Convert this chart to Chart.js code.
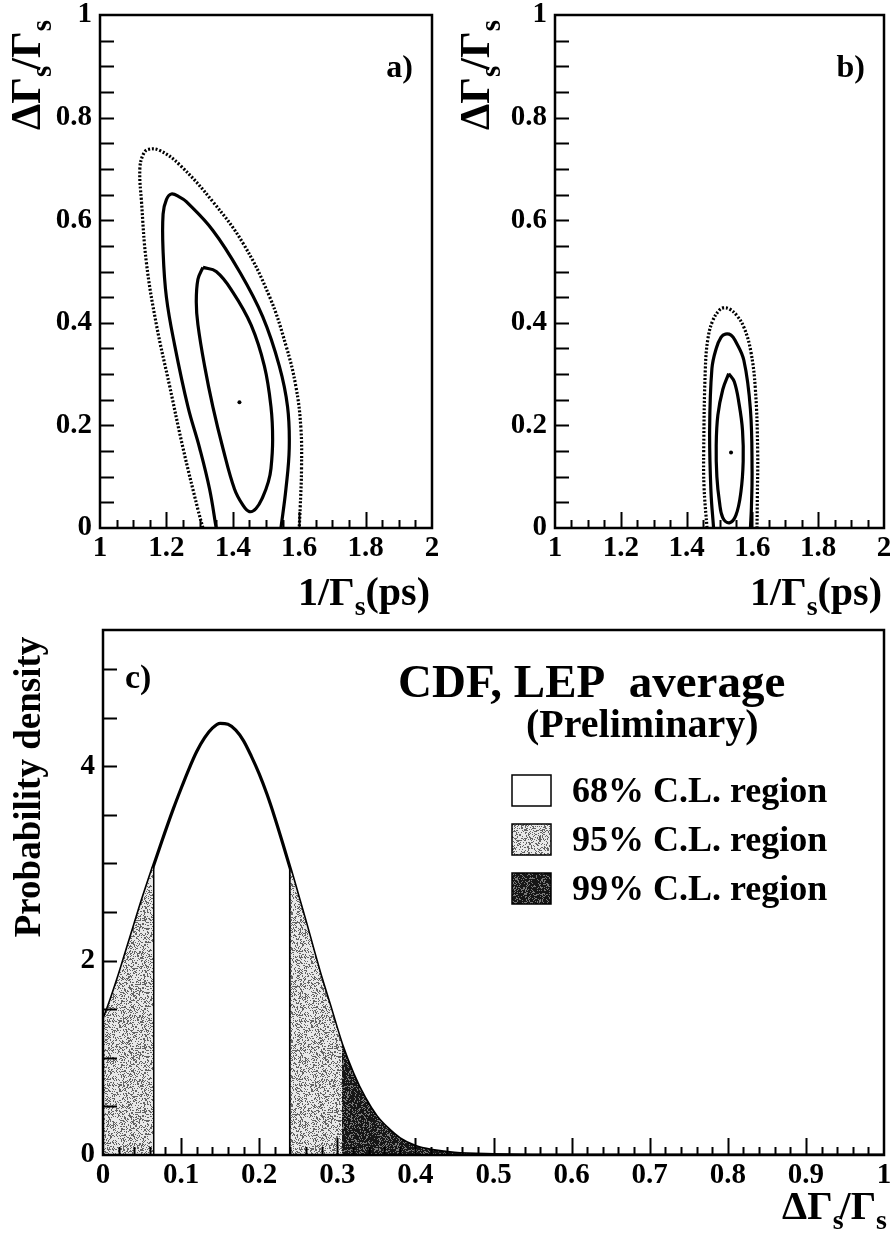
<!DOCTYPE html>
<html>
<head>
<meta charset="utf-8">
<script src="https://cdn.jsdelivr.net/npm/chart.js@4.4.1/dist/chart.umd.min.js"></script>
<style>
  html, body { margin: 0; padding: 0; background: #fff; }
  #wrap { position: relative; width: 894px; height: 1233px; overflow: hidden; background: #fff; }
  canvas { position: absolute; }
</style>
</head>
<body>
<div id="wrap">
  <canvas id="chartA" width="447" height="620" style="left:0;top:0"></canvas>
  <canvas id="chartB" width="447" height="620" style="left:447px;top:0"></canvas>
  <canvas id="chartC" width="894" height="613" style="left:0;top:620px"></canvas>
</div>
<script>
// tick labels of the two contour panels and of the density panel
const contourXTicks = [1, 1.2, 1.4, 1.6, 1.8, 2];
const contourYTicks = [0, 0.2, 0.4, 0.6, 0.8, 1];
const densXTicks = [0, 0.1, 0.2, 0.3, 0.4, 0.5, 0.6, 0.7, 0.8, 0.9, 1];
const densYTicks = [0, 2, 4];

// panel a) contours, points are [1/Gamma_s, dGamma_s/Gamma_s]
const aInner = [[1.31,0.508],[1.295,0.485],[1.29,0.44],[1.295,0.396],[1.315,0.316],[1.34,0.236],[1.37,0.156],
  [1.405,0.076],[1.43,0.045],[1.45,0.032],[1.47,0.038],[1.49,0.06],[1.507,0.09],[1.515,0.116],[1.52,0.172],
  [1.515,0.236],[1.495,0.316],[1.455,0.396],[1.40,0.46],[1.35,0.50],[1.31,0.508]];
const aMiddle = [[1.35,0],[1.33,0.076],[1.30,0.156],[1.265,0.236],[1.225,0.356],[1.20,0.45],[1.19,0.54],
  [1.19,0.612],[1.20,0.64],[1.215,0.651],[1.24,0.645],[1.26,0.636],[1.34,0.58],[1.42,0.50],[1.49,0.412],
  [1.54,0.316],[1.565,0.236],[1.57,0.156],[1.56,0.076],[1.545,0]];
const aOuter = [[1.31,0],[1.295,0.036],[1.25,0.156],[1.21,0.276],[1.17,0.396],[1.14,0.516],[1.125,0.636],
  [1.12,0.70],[1.13,0.728],[1.145,0.738],[1.18,0.736],[1.24,0.708],[1.34,0.636],[1.43,0.556],[1.51,0.452],
  [1.56,0.356],[1.59,0.276],[1.605,0.196],[1.607,0.116],[1.603,0.04],[1.60,0]];
const aBest = [[1.42, 0.245]];

// panel b) contours
const bInner = [[1.528,0.301],[1.51,0.27],[1.495,0.22],[1.49,0.16],[1.492,0.10],[1.50,0.05],[1.51,0.02],
  [1.53,0.01],[1.55,0.025],[1.565,0.07],[1.572,0.13],[1.57,0.19],[1.56,0.24],[1.545,0.285],[1.528,0.301]];
const bMiddle = [[1.482,0],[1.474,0.072],[1.47,0.191],[1.477,0.311],[1.49,0.35],[1.505,0.372],[1.518,0.378],
  [1.535,0.376],[1.548,0.365],[1.574,0.327],[1.594,0.231],[1.599,0.112],[1.597,0.04],[1.594,0]];
const bOuter = [[1.462,0],[1.453,0.08],[1.452,0.151],[1.457,0.311],[1.465,0.37],[1.48,0.405],[1.50,0.425],
  [1.511,0.429],[1.53,0.427],[1.553,0.414],[1.575,0.39],[1.595,0.345],[1.609,0.271],[1.616,0.151],
  [1.615,0.06],[1.614,0]];
const bBest = [[1.535, 0.147]];

// panel c) probability density of dGamma_s/Gamma_s
const densX = [0, 0.01, 0.02, 0.03, 0.04, 0.05, 0.064, 0.075, 0.09, 0.1, 0.11, 0.12, 0.13, 0.14, 0.15, 0.16,
  0.17, 0.18, 0.19, 0.2, 0.21, 0.22, 0.23, 0.24, 0.25, 0.26, 0.27, 0.28, 0.29, 0.306, 0.32, 0.335, 0.35,
  0.365, 0.38, 0.4, 0.42, 0.45, 0.5, 0.55, 1];
const densY = [1.38, 1.60, 1.84, 2.10, 2.36, 2.62, 2.96, 3.22, 3.56, 3.77, 3.97, 4.15, 4.29, 4.39, 4.44, 4.43,
  4.37, 4.26, 4.10, 3.92, 3.71, 3.47, 3.21, 2.94, 2.66, 2.38, 2.09, 1.81, 1.55, 1.13, 0.84, 0.59, 0.40,
  0.27, 0.17, 0.09, 0.05, 0.02, 0.005, 0, 0];
// confidence level boundaries
const cl68Lo = 0.064, cl68Hi = 0.24, cl95Hi = 0.306;
const legendLabels = ['68% C.L. region', '95% C.L. region', '99% C.L. region'];

const SERIF = '"Liberation Serif", "DejaVu Serif", "Times New Roman", serif';
const tickFont = { family: SERIF, size: 29, weight: 'bold' };

// speckled fill, like the printed half-tone
function stipple(base, speck, density) {
  const c = document.createElement('canvas');
  c.width = c.height = 64;
  const g = c.getContext('2d');
  const img = g.createImageData(64, 64);
  for (let y = 0; y < 64; y++) {
    for (let x = 0; x < 64; x++) {
      let h = (Math.imul(x + 1, 374761393) + Math.imul(y + 7, 668265263)) | 0;
      h = Math.imul(h ^ (h >>> 13), 1274126177);
      h = (h ^ (h >>> 16)) >>> 0;
      const v = (h % 1000) / 1000 < density ? speck : base;
      const i = (y * 64 + x) * 4;
      img.data[i] = img.data[i + 1] = img.data[i + 2] = v;
      img.data[i + 3] = 255;
    }
  }
  g.putImageData(img, 0, 0);
  return g.createPattern(c, 'repeat');
}
const lightFill = stipple(232, 100, 0.32);
const darkFill = stipple(22, 120, 0.28);

// text with subscripts, optionally rotated to read bottom-to-top
function drawRich(ctx, parts, x, y, size, align, rotate) {
  const sub = Math.round(size * 0.7);
  ctx.save();
  ctx.translate(x, y);
  if (rotate) ctx.rotate(-Math.PI / 2);
  ctx.fillStyle = '#000';
  ctx.textBaseline = 'alphabetic';
  ctx.textAlign = 'left';
  const fontOf = p => `bold ${p.sub ? sub : size}px ${SERIF}`;
  const widths = parts.map(p => { ctx.font = fontOf(p); return ctx.measureText(p.t).width + (p.kern || 0); });
  const total = widths.reduce((s, w) => s + w, 0);
  let cx = align === 'right' ? -total : align === 'center' ? -total / 2 : 0;
  parts.forEach((p, i) => {
    ctx.font = fontOf(p);
    ctx.fillText(p.t, cx, p.sub ? size * 0.25 : 0);
    cx += widths[i];
  });
  ctx.restore();
}
function drawText(ctx, text, x, y, size, align) {
  ctx.save();
  ctx.font = `bold ${size}px ${SERIF}`;
  ctx.fillStyle = '#000';
  ctx.textAlign = align || 'left';
  ctx.textBaseline = 'alphabetic';
  ctx.fillText(text, x, y);
  ctx.restore();
}
const ratioTitle = [{ t: 'Δ' }, { t: 'Γ' }, { t: 's', sub: true, kern: -4 }, { t: '/' }, { t: 'Γ' }, { t: 's', sub: true }];
const lifeTitle = [{ t: '1/Γ' }, { t: 's', sub: true }, { t: '(ps)' }];

// box around the plot, ticks pointing inwards on the bottom and left edges
const frameTicks = {
  id: 'frameTicks',
  afterDatasetsDraw(chart, args, o) {
    const { ctx, chartArea: a, scales: { x, y } } = chart;
    ctx.save();
    ctx.strokeStyle = '#000';
    ctx.lineWidth = 2;
    ctx.beginPath();
    const nx = Math.round((x.max - x.min) / o.xStep);
    for (let i = 1; i < nx; i++) {
      const v = x.min + i * o.xStep;
      const major = Math.abs((i * o.xStep) / o.xMajor - Math.round((i * o.xStep) / o.xMajor)) < 1e-6;
      const px = Math.round(x.getPixelForValue(v)) + 0.5;
      ctx.moveTo(px, a.bottom);
      ctx.lineTo(px, a.bottom - (major ? o.xMajorLen : o.xMinorLen));
    }
    const ny = Math.floor((y.max - y.min) / o.yStep + 1e-6);
    for (let i = 1; i <= ny; i++) {
      const v = y.min + i * o.yStep;
      if (v >= y.max - 1e-9) break;
      const py = Math.round(y.getPixelForValue(v)) + 0.5;
      ctx.moveTo(a.left, py);
      ctx.lineTo(a.left + o.yLen, py);
    }
    ctx.stroke();
    ctx.lineWidth = 2.5;
    ctx.strokeRect(a.left, a.top, a.right - a.left, a.bottom - a.top);
    ctx.restore();
  }
};

// fixed-size axis box; label overhang must not push the plot area around
function axis(min, max, ticks, fitKey, fitVal, pad) {
  return {
    type: 'linear', min, max,
    grid: { display: false, drawTicks: false }, border: { display: false },
    afterBuildTicks: s => { s.ticks = ticks.map(v => ({ value: v })); },
    afterFit: s => {
      s[fitKey] = fitVal;
      s.paddingTop = s.paddingBottom = s.paddingLeft = s.paddingRight = 0;
    },
    ticks: { font: tickFont, color: '#000', padding: pad, maxRotation: 0, autoSkip: false, callback: v => String(v) }
  };
}

function contourSets(inner, middle, outer, best) {
  const line = (pts, dotted) => ({
    data: pts.map(p => ({ x: p[0], y: p[1] })),
    showLine: true, borderColor: '#000', borderWidth: dotted ? 3.2 : 3.2,
    borderDash: dotted ? [2, 1.8] : [], tension: 0.4, pointRadius: 0, fill: false
  });
  return [line(inner), line(middle), line(outer, true), {
    data: best.map(p => ({ x: p[0], y: p[1] })),
    showLine: false, pointRadius: 2, backgroundColor: '#000', borderWidth: 0
  }];
}

function contourChart(id, sets, yWidth, padRight, label, yTitleX) {
  const w = document.getElementById(id).width;
  const labels = {
    id: 'labels',
    afterDraw(chart) {
      const ctx = chart.ctx;
      drawText(ctx, label, w - padRight - 19, 77, 32, 'right');
      drawRich(ctx, ratioTitle, yTitleX, 130, 42, 'left', true);
      drawRich(ctx, lifeTitle, w - padRight - 2, 605, 40, 'right', false);
    }
  };
  return new Chart(document.getElementById(id), {
    type: 'scatter',
    data: { datasets: sets },
    options: {
      responsive: false, animation: false, events: [],
      layout: { padding: { left: 0, right: padRight, top: 15, bottom: 0 } },
      scales: {
        x: axis(1, 2, contourXTicks, 'height', 92, 3),
        y: axis(0, 1, contourYTicks, 'width', yWidth, 8)
      },
      plugins: {
        legend: { display: false }, tooltip: { enabled: false },
        frameTicks: { xStep: 0.05, xMajor: 0.2, xMinorLen: 8, xMajorLen: 16, yStep: 0.05, yLen: 14 }
      }
    },
    plugins: [frameTicks, labels]
  });
}

contourChart('chartA', contourSets(aInner, aMiddle, aOuter, aBest), 100, 15, 'a)', 40);
contourChart('chartB', contourSets(bInner, bMiddle, bOuter, bBest), 108, 10, 'b)', 42);

// density panel
const curvePts = densX.map((x, i) => ({ x, y: densY[i] }));
const slice = (lo, hi) => curvePts.filter(p => p.x >= lo - 1e-9 && p.x <= hi + 1e-9);
const at = xv => curvePts.find(p => Math.abs(p.x - xv) < 1e-9);
const region = (pts, fill) => ({
  data: pts, showLine: true, fill: 'origin', backgroundColor: fill,
  borderWidth: 0, borderColor: 'rgba(0,0,0,0)', pointRadius: 0, cubicInterpolationMode: 'monotone'
});
const edge = xv => ({
  data: [{ x: xv, y: 0 }, at(xv)], showLine: true, borderColor: '#000', borderWidth: 3, pointRadius: 0, fill: false
});

const densLabels = {
  id: 'densLabels',
  afterDraw(chart) {
    const ctx = chart.ctx;
    drawText(ctx, 'c)', 125, 68, 34);
    drawText(ctx, 'CDF, LEP  average', 398, 77, 47);
    drawText(ctx, '(Preliminary)', 526, 117, 40);
    const fills = ['#fff', lightFill, darkFill];
    legendLabels.forEach((txt, i) => {
      const cy = 170 + i * 49;
      ctx.save();
      ctx.fillStyle = fills[i];
      ctx.fillRect(512, cy - 15, 39, 31);
      ctx.strokeStyle = '#000';
      ctx.lineWidth = 1.5;
      ctx.strokeRect(512, cy - 15, 39, 31);
      ctx.restore();
      drawText(ctx, txt, 572, cy + 12, 36);
    });
    drawRich(ctx, [{ t: 'Probability density' }], 40, 167, 37, 'center', true);
    drawRich(ctx, ratioTitle, 887, 599, 40, 'right', false);
  }
};

new Chart(document.getElementById('chartC'), {
  type: 'scatter',
  data: {
    datasets: [
      region(slice(0, cl68Lo), lightFill),
      region(slice(cl68Hi, cl95Hi), lightFill),
      region(slice(cl95Hi, 1), darkFill),
      edge(cl68Lo),
      edge(cl68Hi),
      { data: curvePts, showLine: true, borderColor: '#000', borderWidth: 3.2, pointRadius: 0,
        fill: false, cubicInterpolationMode: 'monotone' }
    ]
  },
  options: {
    responsive: false, animation: false, events: [],
    layout: { padding: { left: 0, right: 10, top: 10, bottom: 0 } },
    scales: {
      x: axis(0, 1, densXTicks, 'height', 78, 3),
      y: axis(0, 5.4, densYTicks, 'width', 103, 8)
    },
    plugins: {
      legend: { display: false }, tooltip: { enabled: false },
      frameTicks: { xStep: 0.02, xMajor: 0.1, xMinorLen: 8, xMajorLen: 17, yStep: 0.5, yLen: 14 }
    }
  },
  plugins: [frameTicks, densLabels]
});
</script>
</body>
</html>
